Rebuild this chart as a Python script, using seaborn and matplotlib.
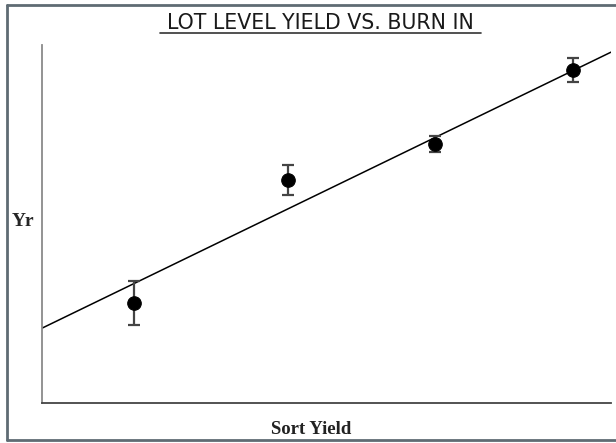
import numpy as np
import pandas as pd
import seaborn as sns
from matplotlib import pyplot as plt
from matplotlib.lines import Line2D

# values (arbitrary units, axes run 0-100)
sort_yield = [16.2, 43.2, 69.1, 93.3]
yr = [27.9, 62.3, 72.3, 93.0]
yr_err = [6.2, 4.3, 2.2, 3.4]

# fitted line drawn on the chart
fit_intercept = 20.9
fit_slope = 0.771
fit_x = [0, 100]

data = pd.DataFrame({'Sort Yield': sort_yield, 'Yr': yr, 'err': yr_err})
line = pd.DataFrame({'x': fit_x,
                     'y': [fit_intercept + fit_slope * v for v in fit_x]})

sns.set_style('white')
plt.rcParams['font.family'] = ['DejaVu Sans']

fig = plt.figure(figsize=(6.16, 4.43), dpi=100)
W, H = 616, 443
ax = fig.add_axes([42 / W, 1 - 403 / H, (611 - 42) / W, (403 - 45) / H])

# regression line
sns.lineplot(x='x', y='y', data=line, color='black', linewidth=1.1, ax=ax)

# error bars
ax.errorbar(data['Sort Yield'], data['Yr'], yerr=data['err'], fmt='none',
            ecolor='#444444', elinewidth=1.6, capsize=4.5, capthick=1.6, zorder=3)

# points
sns.scatterplot(x='Sort Yield', y='Yr', data=data, color='black', s=95,
                edgecolor='black', zorder=4, ax=ax)

ax.set_xlim(0, 100)
ax.set_ylim(0, 100)
ax.set_xticks([])
ax.set_yticks([])
ax.set_xlabel('')
ax.set_ylabel('')
sns.despine(ax=ax, top=True, right=True)
ax.spines['left'].set_color('#8a8a8a')
ax.spines['left'].set_linewidth(1.3)
ax.spines['bottom'].set_color('#444444')
ax.spines['bottom'].set_linewidth(1.3)

# title with underline
fig.text(320 / W, 1 - 29 / H, 'LOT LEVEL YIELD VS. BURN IN', ha='center',
         va='baseline', fontsize=14.8, color='#1a1a1a')
fig.add_artist(Line2D([160 / W, 481 / W], [1 - 33 / H, 1 - 33 / H],
                      color='#333333', linewidth=1.2))

# axis labels
fig.text(23 / W, 1 - 222 / H, 'Yr', ha='center', va='center', fontsize=14,
         fontweight='bold', family=['Liberation Serif', 'DejaVu Serif'])
fig.text(311 / W, 1 - 430 / H, 'Sort Yield', ha='center', va='center',
         fontsize=13.5, fontweight='bold',
         family=['Liberation Serif', 'DejaVu Serif'], color='#222222')

# scan frame: top, left and bottom edges only
frame = '#5f6b73'
fig.add_artist(Line2D([7 / W, 1.0], [1 - 5 / H, 1 - 5 / H], color=frame, linewidth=2))
fig.add_artist(Line2D([7 / W, 7 / W], [1 - 5 / H, 1 - 440 / H], color=frame, linewidth=2))
fig.add_artist(Line2D([7 / W, 1.0], [1 - 440 / H, 1 - 440 / H], color=frame, linewidth=2))

plt.savefig('out.png', dpi=100)
